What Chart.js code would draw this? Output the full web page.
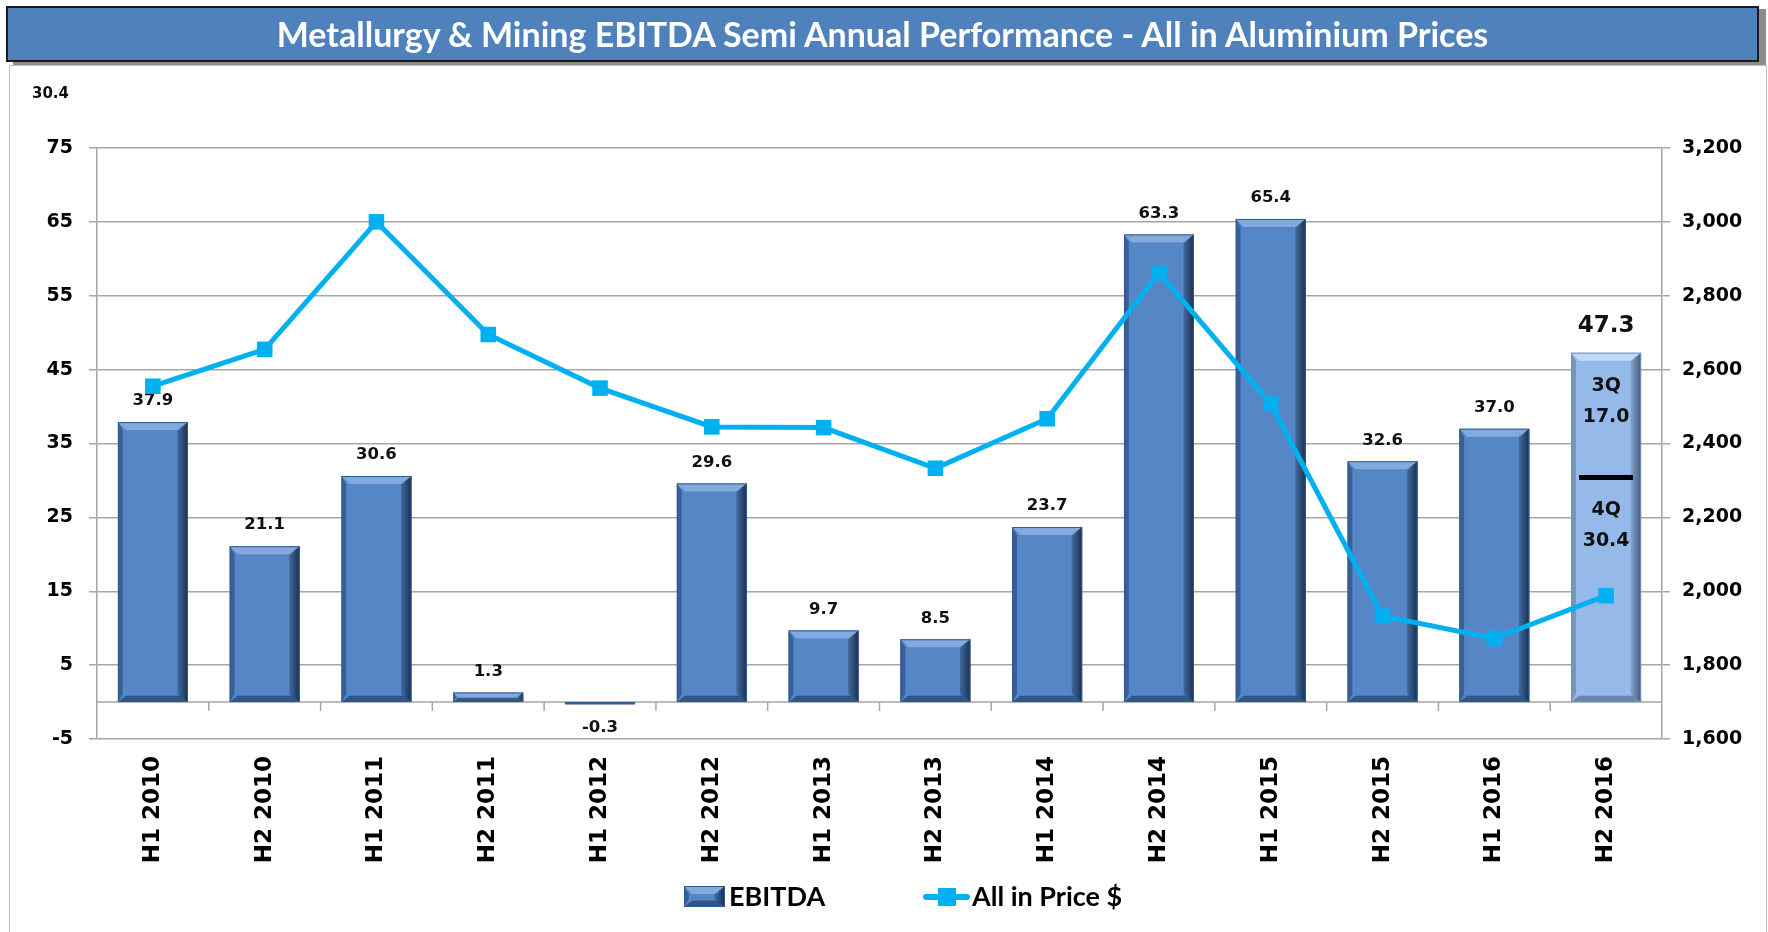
<!DOCTYPE html>
<html>
<head>
<meta charset="utf-8">
<script src="https://cdn.jsdelivr.net/npm/chart.js@4.4.0/dist/chart.umd.min.js"></script>
<style>
  body { margin: 0; width: 1768px; height: 932px; background: #fff; position: relative; overflow: hidden; }
  #title {
    position: absolute; left: 6px; top: 6px; width: 1749px; height: 52px;
    background: #4F81BD; border: 2px solid #1a1a1a; box-shadow: 7px 3px 0 #8c8c8c;
    color: #fff; font: 700 34px Lato, sans-serif; text-align: center; line-height: 52px; z-index: 2;
  }
  #panel { position: absolute; left: 9px; top: 65px; width: 1756px; height: 870px; border: 1px solid #bfbfbf; border-bottom: none; }
  #wrap { position: absolute; left: 0; top: 0; width: 1768px; height: 932px; }
</style>
</head>
<body>
<div id="title">Metallurgy &amp; Mining EBITDA Semi Annual Performance - All in Aluminium Prices</div>
<div id="panel"></div>
<div id="wrap"><canvas id="chart"></canvas></div>
<script>
'use strict';

// categories and values
const categories = ['H1 2010', 'H2 2010', 'H1 2011', 'H2 2011', 'H1 2012', 'H2 2012', 'H1 2013',
  'H2 2013', 'H1 2014', 'H2 2014', 'H1 2015', 'H2 2015', 'H1 2016', 'H2 2016'];
const ebitda = [37.9, 21.1, 30.6, 1.3, -0.3, 29.6, 9.7, 8.5, 23.7, 63.3, 65.4, 32.6, 37.0, 47.3];
const allInPrice = [2555, 2655, 3000, 2695, 2550, 2445, 2443, 2333, 2467, 2862, 2507, 1933, 1872, 1988];
// last half split into quarters (4Q at the bottom, 3Q on top)
const quarterLabels = ['3Q', '4Q'];
const quarterValues = [17.0, 30.4];
const cornerNote = '30.4';

const barBlue = '#5586C6';
const barLight = '#95BAE9';
const lineBlue = '#00B0F0';
const gridGrey = '#a6a6a6';

// bevelled look like the office chart
function bevel(ctx, el, light) {
  const w = el.width, l = el.x - w / 2, r = el.x + w / 2;
  const t = Math.min(el.y, el.base), b = Math.max(el.y, el.base);
  const d = Math.min(8, (b - t) / 2);
  ctx.save();
  ctx.fillStyle = light ? 'rgba(230,240,255,0.55)' : 'rgba(160,195,240,0.6)';
  ctx.beginPath(); ctx.moveTo(l, t); ctx.lineTo(r, t); ctx.lineTo(r - d, t + d); ctx.lineTo(l + d, t + d); ctx.closePath(); ctx.fill();
  ctx.fillStyle = light ? 'rgba(60,80,110,0.35)' : 'rgba(20,50,90,0.45)';
  ctx.beginPath(); ctx.moveTo(l, t); ctx.lineTo(l + d * 0.6, t + d); ctx.lineTo(l + d * 0.6, b - d); ctx.lineTo(l, b); ctx.closePath(); ctx.fill();
  const g = ctx.createLinearGradient(r - d * 1.3, 0, r, 0);
  g.addColorStop(0, light ? 'rgba(50,70,100,0.2)' : 'rgba(20,40,70,0.3)');
  g.addColorStop(1, light ? 'rgba(40,55,80,0.75)' : 'rgba(15,30,55,0.85)');
  ctx.fillStyle = g;
  ctx.beginPath(); ctx.moveTo(r, t); ctx.lineTo(r, b); ctx.lineTo(r - d * 1.3, b - d); ctx.lineTo(r - d * 1.3, t + d); ctx.closePath(); ctx.fill();
  ctx.fillStyle = light ? 'rgba(50,70,100,0.45)' : 'rgba(20,45,80,0.55)';
  ctx.beginPath(); ctx.moveTo(l, b); ctx.lineTo(r, b); ctx.lineTo(r - d, b - d * 0.8); ctx.lineTo(l + d, b - d * 0.8); ctx.closePath(); ctx.fill();
  ctx.strokeStyle = light ? '#6f8fb8' : '#2f5a8c';
  ctx.lineWidth = 1;
  ctx.strokeRect(l + 0.5, t + 0.5, w - 1, b - t - 1);
  ctx.restore();
}

const decorations = {
  id: 'decorations',
  beforeDatasetsDraw(chart) {
    const ctx = chart.ctx, x = chart.scales.x, y = chart.scales.y;
    const y0 = y.getPixelForValue(0);
    ctx.save();
    ctx.strokeStyle = gridGrey;
    ctx.lineWidth = 1.5;
    ctx.beginPath();
    ctx.moveTo(chart.chartArea.left, y0); ctx.lineTo(chart.chartArea.right, y0);
    for (let i = 1; i < categories.length; i++) {
      const bx = (x.getPixelForTick(i - 1) + x.getPixelForTick(i)) / 2;
      ctx.moveTo(bx, y0); ctx.lineTo(bx, y0 + 9);
    }
    ctx.stroke();
    ctx.restore();
  },
  afterDatasetDraw(chart, args) {
    if (args.index !== 0) return;
    const ctx = chart.ctx, y = chart.scales.y;
    const bars = args.meta.data;
    bars.forEach((el, i) => bevel(ctx, el, i === bars.length - 1));

    ctx.save();
    ctx.fillStyle = '#111';
    ctx.textAlign = 'center';
    ctx.textBaseline = 'middle';
    bars.forEach((el, i) => {
      const v = ebitda[i];
      if (i === bars.length - 1) {
        ctx.font = 'bold 23px "DejaVu Sans"';
        ctx.fillText(v.toFixed(1), el.x, el.y - 27);
        const top = el.y;
        const split = y.getPixelForValue(quarterValues[1]);
        ctx.font = 'bold 19px "DejaVu Sans"';
        ctx.fillText(quarterLabels[0], el.x, top + 33);
        ctx.fillText(quarterValues[0].toFixed(1), el.x, top + 64);
        ctx.fillText(quarterLabels[1], el.x, split + 33);
        ctx.fillText(quarterValues[1].toFixed(1), el.x, split + 64);
        ctx.fillStyle = '#000';
        ctx.fillRect(el.x - el.width / 2 + 8, split - 2.5, el.width - 16, 5);
        ctx.fillStyle = '#111';
      } else {
        ctx.font = 'bold 16.5px "DejaVu Sans"';
        const ly = v < 0 ? el.base + 26 : el.y - 21;
        ctx.fillText(v.toFixed(1), el.x, ly);
      }
    });
    ctx.restore();
  },
  afterDraw(chart) {
    const ctx = chart.ctx;
    ctx.save();
    ctx.fillStyle = '#111';
    ctx.font = 'bold 15px "DejaVu Sans"';
    ctx.textBaseline = 'middle';
    ctx.fillText(cornerNote, 32, 94);

    // legend
    const ly = 897;
    ctx.fillStyle = barBlue;
    ctx.fillRect(684, 886, 41, 21);
    bevel(ctx, { x: 704.5, y: 886, base: 907, width: 41 }, false);
    ctx.fillStyle = '#000';
    ctx.font = 'bold 27px Lato';
    ctx.fillText('EBITDA', 729, ly);
    ctx.strokeStyle = lineBlue;
    ctx.lineWidth = 6;
    ctx.lineCap = 'round';
    ctx.beginPath(); ctx.moveTo(926, ly); ctx.lineTo(967, ly); ctx.stroke();
    ctx.fillStyle = lineBlue;
    ctx.fillRect(938, ly - 9, 18, 18);
    ctx.fillStyle = '#000';
    ctx.fillText('All in Price $', 972, ly);
    ctx.restore();
  }
};

const ctx = document.getElementById('chart').getContext('2d');
new Chart(ctx, {
  data: {
    labels: categories,
    datasets: [{
      type: 'bar',
      label: 'EBITDA',
      data: ebitda,
      backgroundColor: ebitda.map((v, i) => i === ebitda.length - 1 ? barLight : barBlue),
      borderWidth: 0,
      barPercentage: 0.626,
      categoryPercentage: 1,
      yAxisID: 'y',
      order: 1
    }, {
      type: 'line',
      label: 'All in Price $',
      data: allInPrice,
      borderColor: lineBlue,
      backgroundColor: lineBlue,
      borderWidth: 5,
      pointStyle: 'rect',
      pointRadius: 11,
      pointBorderWidth: 0,
      tension: 0,
      yAxisID: 'y1',
      order: 0
    }]
  },
  options: {
    responsive: true,
    maintainAspectRatio: false,
    animation: false,
    layout: { padding: { top: 148, bottom: 43, left: 0, right: 0 } },
    plugins: { legend: { display: false }, tooltip: { enabled: false } },
    scales: {
      x: {
        grid: { display: false },
        border: { display: false },
        ticks: {
          minRotation: 90, maxRotation: 90, autoSkip: false, padding: 9,
          color: '#000', font: { family: 'DejaVu Sans', weight: 'bold', size: 23 }
        },
        afterFit(s) { s.height = 150; }
      },
      y: {
        position: 'left',
        min: -5, max: 75,
        ticks: { stepSize: 10, padding: 16, color: '#000', font: { family: 'DejaVu Sans', weight: 'bold', size: 19 } },
        grid: { color: gridGrey, lineWidth: 1.5, tickLength: 8 },
        border: { color: gridGrey, width: 1.5 },
        afterFit(s) { s.width = 97; }
      },
      y1: {
        position: 'right',
        min: 1600, max: 3200,
        ticks: {
          stepSize: 200, padding: 12, color: '#000',
          font: { family: 'DejaVu Sans', weight: 'bold', size: 19 },
          callback: v => v.toLocaleString('en-US')
        },
        grid: { drawOnChartArea: false, color: gridGrey, lineWidth: 1.5, tickLength: 8 },
        border: { color: gridGrey, width: 1.5 },
        afterFit(s) { s.width = 106; }
      }
    }
  },
  plugins: [decorations]
});
</script>
</body>
</html>
